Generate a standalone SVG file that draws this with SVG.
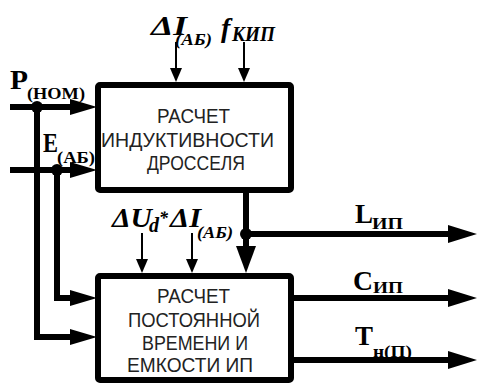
<svg xmlns="http://www.w3.org/2000/svg" width="477" height="383" viewBox="0 0 477 383">
<style>
.box{fill:#fff;stroke:#000;stroke-width:6;}
.bt{font-family:"Liberation Sans",Arial,sans-serif;font-size:20px;fill:#222;}
.thick{stroke:#000;stroke-width:6;fill:none;}
.thin{stroke:#000;stroke-width:2;fill:none;}
.ah{fill:#000;}
.lb{font-family:"Liberation Serif","Times New Roman",serif;font-weight:bold;fill:#000;}
.it{font-style:italic;}
</style>
<rect x="0" y="0" width="477" height="383" fill="#fff"/>
<g id="connectors">
  <polyline class="thick" points="10,107 72,107"/>
  <polygon class="ah" points="70,99 97,107 70,115"/>
  <polyline class="thick" points="37,107 37,337 72,337"/>
  <polygon class="ah" points="70,329 97,337 70,345"/>
  <circle cx="37" cy="107" r="6"/>
  <polyline class="thick" points="10,170 72,170"/>
  <polygon class="ah" points="70,162 97,170 70,178"/>
  <polyline class="thick" points="57,170 57,298 72,298"/>
  <polygon class="ah" points="70,290 97,298 70,306"/>
  <circle cx="57" cy="170" r="6"/>
  <line class="thin" x1="176" y1="42" x2="176" y2="70"/>
  <polygon class="ah" points="170,68 176,82 182,68"/>
  <line class="thin" x1="244" y1="42" x2="244" y2="70"/>
  <polygon class="ah" points="238,68 244,82 250,68"/>
  <line class="thin" x1="142" y1="233" x2="142" y2="261"/>
  <polygon class="ah" points="136,259 142,273 148,259"/>
  <line class="thin" x1="192" y1="233" x2="192" y2="261"/>
  <polygon class="ah" points="186,259 192,273 198,259"/>
  <line class="thick" x1="246" y1="190" x2="246" y2="250"/>
  <polygon class="ah" points="236,246 246,273 256,246"/>
  <line class="thick" x1="246" y1="234" x2="450" y2="234"/>
  <polygon class="ah" points="448,225 477,234 448,243"/>
  <circle cx="246" cy="234" r="6"/>
  <line class="thick" x1="290" y1="298" x2="450" y2="298"/>
  <polygon class="ah" points="448,289 477,298 448,307"/>
  <line class="thick" x1="290" y1="360" x2="450" y2="360"/>
  <polygon class="ah" points="448,351 477,360 448,369"/>
</g>
<g id="node-inductance">
  <rect class="box" x="98" y="85" width="193" height="105" rx="2"/>
  <text class="bt" x="157" y="123" textLength="73" lengthAdjust="spacingAndGlyphs">РАСЧЕТ</text>
  <text class="bt" x="101" y="147" textLength="173" lengthAdjust="spacingAndGlyphs">ИНДУКТИВНОСТИ</text>
  <text class="bt" x="147" y="170" textLength="98" lengthAdjust="spacingAndGlyphs">ДРОССЕЛЯ</text>
</g>
<g id="node-capacitance">
  <rect class="box" x="98" y="276" width="193" height="104" rx="2"/>
  <text class="bt" x="157" y="303" textLength="73" lengthAdjust="spacingAndGlyphs">РАСЧЕТ</text>
  <text class="bt" x="128" y="327" textLength="132" lengthAdjust="spacingAndGlyphs">ПОСТОЯННОЙ</text>
  <text class="bt" x="142" y="350" textLength="106" lengthAdjust="spacingAndGlyphs">ВРЕМЕНИ И</text>
  <text class="bt" x="127" y="372" textLength="126" lengthAdjust="spacingAndGlyphs">ЕМКОСТИ ИП</text>
</g>
<g id="labels">
  <text class="lb" x="10" y="89" font-size="27" textLength="18" lengthAdjust="spacingAndGlyphs">P</text>
  <text class="lb" x="27" y="99" font-size="17" textLength="58" lengthAdjust="spacingAndGlyphs">(НОМ)</text>
  <text class="lb" x="43" y="152" font-size="27" textLength="15" lengthAdjust="spacingAndGlyphs">E</text>
  <text class="lb" x="57" y="163" font-size="17" textLength="38" lengthAdjust="spacingAndGlyphs">(АБ)</text>
  <text class="lb it" x="151" y="35" font-size="28" textLength="36" lengthAdjust="spacingAndGlyphs">ΔI</text>
  <text class="lb it" x="175" y="45" font-size="16" textLength="37" lengthAdjust="spacingAndGlyphs">(АБ)</text>
  <text class="lb it" x="221" y="37" font-size="28">f</text>
  <text class="lb it" x="232" y="41" font-size="20" textLength="43" lengthAdjust="spacingAndGlyphs">КИП</text>
  <text class="lb it" x="112" y="227" font-size="27" textLength="40" lengthAdjust="spacingAndGlyphs">ΔU</text>
  <text class="lb it" x="149" y="232" font-size="20">d</text>
  <text class="lb it" x="159" y="224" font-size="18">*</text>
  <text class="lb it" x="170" y="227" font-size="27" textLength="31" lengthAdjust="spacingAndGlyphs">ΔI</text>
  <text class="lb it" x="197" y="238" font-size="16" textLength="36" lengthAdjust="spacingAndGlyphs">(АБ)</text>
  <text class="lb" x="355" y="223" font-size="28" textLength="18" lengthAdjust="spacingAndGlyphs">L</text>
  <text class="lb" x="372" y="229" font-size="17" textLength="31" lengthAdjust="spacingAndGlyphs">ИП</text>
  <text class="lb" x="353" y="290" font-size="28" textLength="20" lengthAdjust="spacingAndGlyphs">C</text>
  <text class="lb" x="373" y="293" font-size="17" textLength="30" lengthAdjust="spacingAndGlyphs">ИП</text>
  <text class="lb" x="355" y="345" font-size="27" textLength="18" lengthAdjust="spacingAndGlyphs">T</text>
  <text class="lb" x="373" y="357" font-size="16" textLength="39" lengthAdjust="spacingAndGlyphs">н(П)</text>
</g>
</svg>
